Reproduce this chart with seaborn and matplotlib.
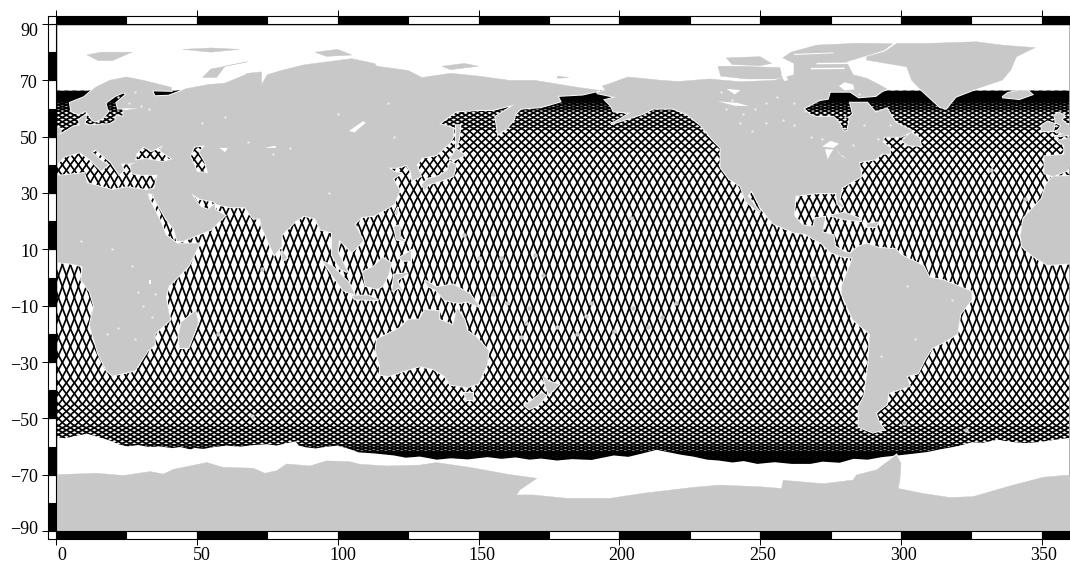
#!/usr/bin/env python3
import numpy as np
import pandas as pd
import seaborn as sns
import matplotlib
matplotlib.use('Agg')
import matplotlib.pyplot as plt
from matplotlib.patches import PathPatch
from matplotlib.path import Path
from matplotlib.transforms import ScaledTranslation

# equator crossing longitudes of the passes
pass_lons = [0.00,2.83,5.67,8.50,11.34,14.17,17.01,19.84,22.68,25.51,28.35,31.18,34.02,36.85,39.68,42.52,
    45.35,48.19,51.02,53.86,56.69,59.53,62.36,65.20,68.03,70.87,73.70,76.54,79.37,82.20,85.04,87.87,
    90.71,93.54,96.38,99.21,102.05,104.88,107.72,110.55,113.39,116.22,119.06,121.89,124.72,127.56,130.39,133.23,
    136.06,138.90,141.73,144.57,147.40,150.24,153.07,155.91,158.74,161.57,164.41,167.24,170.08,172.91,175.75,178.58,
    181.42,184.25,187.09,189.92,192.76,195.59,198.43,201.26,204.09,206.93,209.76,212.60,215.43,218.27,221.10,223.94,
    226.77,229.61,232.44,235.28,238.11,240.94,243.78,246.61,249.45,252.28,255.12,257.95,260.79,263.62,266.46,269.29,
    272.13,274.96,277.80,280.63,283.46,286.30,289.13,291.97,294.80,297.64,300.47,303.31,306.14,308.98,311.81,314.65,
    317.48,320.31,323.15,325.98,328.82,331.65,334.49,337.32,340.16,342.99,345.83,348.66,351.50,354.33,357.17]
asc_shift = 0.6
desc_shift = 1.1

# shape of one pass, lat and lon distance from the equator crossing
pass_lat = [0, 9.13, 18.21, 27.19, 35.97, 44.43, 52.31, 59.18, 61.98, 64.15, 65.55, 66.04]
pass_off = [0, 3.32, 6.85, 10.86, 15.70, 21.92, 30.44, 42.67, 50.73, 60.29, 71.21, 82.97]

# coastlines, lon/lat
afro_eurasia = [(0,50.5),(2,51),(4.5,52.5),(6,53.5),(8.5,54),(8.2,56),(10.5,57.7),(10.5,56),(10,54.5),(12,54),(15,54.2),
    (19,54.4),(21,55.5),(21.5,57.5),(24,57),(24,59.3),(30,60),(25,60.2),(22,60),(21.5,62),(25,65),(24,65.8),(21,64.5),
    (17.5,62),(18,60),(18.5,59),(16.5,56.5),(14,55.4),(12.8,56),(11.5,58),(10.5,59.2),(8,58),(5.5,59),(5,62),(10,64),
    (14,67.5),(19,70),(25,71.2),(31,70),(41,67.5),(41,66.3),(34,66.5),(35,64.3),(40,64.5),(44,66),(46,67),(54,68.5),(60,69),(67,71.9),
    (68,72.5),(73,73),(73,68.5),(75,72),(80,73.5),(88,75.5),(105,77.7),(113,76),(114,75),(125,73.5),(130,71),(140,72.5),
    (150,71.5),(161,70),(170,70),(184,67.7),(193,66.4),(187,65),(178,64.5),(179,62.5),(172,60.5),(165,60),(163,58),
    (162.5,56),(160,53),(157,50.8),(156.5,54),(156,57),(163,61.5),(155,59.5),(150,59.5),(142,59),(136,54.5),(141,53),(141,50),
    (140,48),(135,43.5),(130,42.5),(128,40),(129.5,36),(126.5,34.5),(126,37.5),(124.5,40),(121,39),(118,39),(120,37.5),
    (122.5,37),(119.5,35),(122,31),(120,26),(113,22),(108.5,21.5),(106,19),(109,13),(105,9),(103,11),(100.5,13.5),(100,9),
    (103.5,2),(101,3),(98,8),(98,16),(94,17),(92,21),(88,22),(85,20),(80,15),(80,11),(77.5,8),(73,18),(72.5,21),(70,21),
    (67,25),(62,25),(57,26),(56,27),(51,28),(48,30),(50,26.5),(51.5,25),(54,24),(56.3,26),(56.5,24),(60,22),(55,17),(45,13),
    (43,13),(42,17),(39,21),(35,28),(34.5,29.5),(32.5,30),(33,28),(37,20),(39,15),(43,12),(51,12),(47,4),(40,-3),(39,-7),
    (40.5,-15),(35,-20),(35,-24),(32.5,-26),(28,-33),(20,-34.8),(18,-33),(15,-27),(12,-17),(13.5,-10),(12,-5),(9,-1),(9.5,4),
    (5,5),(0,5.5),(0,36),(10,37),(11,33.5),(20,31),(25,32),(32,31),(35,31.5),(36,36.5),(30,36.5),(27,37),(26.5,40),(29,41),
    (26,40.5),(23,40.5),(24,38),(22.5,36.5),(19.5,41),(14,45.5),(12.5,44.5),(16,41.5),(18.5,40),(16,38),(12,42),(8.5,44.5),
    (3,43),(0,40)]
west_africa = [(360,5),(352,4.5),(347,7.5),(343,11),(342.5,15),(343.5,21),(350,28),(351.5,33),(354,35.8),(360,36)]
iberia_france = [(360,39.5),(359,38),(354,36),(351,37),(351,43),(358,43.5),(358,47),(355.5,48.5),(360,49.5)]
north_america = [(192,65.5),(195,66.5),(194,68),(197,69),(203,71.2),(215,70),(221,69.6),(232,70.5),(243,69.5),(255,70),(262,72),
    (262,76),(258,78),(261,80),(270,82.5),(285,83.2),(297,83),(294,80.7),(286.6,78.4),(280.7,76.6),(283,72),(288,70.7),(295,67),
    (293,66),(291,64.5),(285,64),(282,66),(277,66),(274.7,66),(274,63.5),(271,63),(265.3,60),(267.7,57.7),(270,57),(276,57),(278,55),(279.5,51.8),(281,52),(281.9,57),
    (283,58),(282,62),(288,62),(291,58.5),(295,60),(298,55),(304,52),(300,50),(294,50),(293.5,48),(296,46),(296,44),(293,44),
    (291,42),(285,41),(286,36),(279,32),(278,27),(279.5,25),(277.5,26),(277,30),(270,30),(262.5,29),(262,22),(265,18.5),
    (269,18),(269.5,21),(273,21.5),(272,16),(276,15),(276.5,11),(280,9),(282,8.5),(283,9.5),(285,11),(288,12),(292,10.5),
    (298,10),(300,8),(308,4),(310,0),(315,-1),(325,-5),(325,-8),(321,-13),(320,-20),(315,-23),(311,-25),(308.5,-29),(306,-34),
    (302,-35),(303,-38.5),(295.5,-41),(295,-45),(291,-48),(292,-51),(294,-54),(290,-55),(285,-53),(285,-46),(287,-42),
    (288.5,-30),(289,-20),(283,-15),(279,-6),(279,-3),(281,2),(283,7),(279,7.5),(275,9),(272,12),(266,15.5),(262,16),(255,19),
    (253,21),(250,25),(247,31),(245.5,29),(250,23),(245,27),(243,32.5),(239,35),(236,39),(236,46),(233,49),(229,54),(224,58),
    (219,60),(212,60),(208,58),(197,54.5),(200,56),(204,58.5),(198,59),(197,61),(195,63),(199,64)]
greenland = [(316,60),(313.8,60.6),(307.9,66),(306,67.7),(303.8,70),(302,74.8),(287.8,77.2),(287.8,78.4),(294.3,80.2),(298.5,83.1),(309,83.1),(326.8,83.7),
    (336,82.5),(347.6,81.6),(341,78.4),(339,73.7),(336,70.1),(325.6,66.6),(319.4,64.2)]
antarctica = [(0,-90),(0,-70),(14.4,-69.5),(23.9,-70.3),(33.4,-68.9),(38.1,-69.8),(41.7,-68.1),(53.5,-65.7),(59.4,-67.4),(70,-67.7),
    (74.2,-69.5),(78.3,-68.6),(81.9,-66.2),(90.2,-66.9),(96.1,-65.1),(104.4,-65.4),(107.9,-66.3),(117.4,-66.9),(129.2,-66.6),
    (135,-65.7),(146.9,-67.4),(160,-69.8),(170.7,-71.3),(164.7,-75.4),(163.5,-77.2),(169.4,-77.2),(181.3,-78.4),(196.7,-78.4),
    (208.6,-76.6),(226.3,-74.5),(235.8,-73.7),(249.9,-74.3),(257.6,-74.9),(258.2,-72),(272.4,-73.2),(283,-71.9),(284.2,-70.1),
    (291.3,-68.3),(298.4,-63),(300,-66),(299.6,-71.9),(299,-74.9),(308,-76.7),(317.3,-78.1),(325.6,-77.8),(338.7,-74),
    (350.6,-70.9),(360,-70.1),(360,-90)]
islands = [
    [(0,50.7),(1.5,51.2),(1.7,52.7),(0,53.5)],
    [(360,53.5),(357,56),(358,57.5),(356,58.5),(354.5,57.5),(355,55),(357,54),(356,52.5),(355,51.7),(358,51),(354.5,50),(360,50.7)],
    [(350,52),(350,54),(352,55.3),(354.5,54.5),(354,52)],
    [(336,64),(338,65.5),(342,66.4),(345,66.3),(346.5,65),(342,63.4)],
    [(235,75),(243,75),(257,74.5),(258,71),(255,70.5),(245,70.5),(236,71.5)],
    [(238,78),(250,78.4),(254,76),(250,75.2),(240,75.6)],
    [(302.5,47),(307,46.8),(306.5,49.5),(303.5,51.5),(300.5,48.5)],
    [(275,22),(280,23),(285,21),(286,20),(281,20.5),(277,21.5)],
    [(288,19),(292,19.5),(291,18),(288,18)],
    [(130,33),(132,35),(136,36),(139,38),(140,41),(142,40),(141,36),(137,34.5),(132,33),(131,31)],
    [(140,42),(142,45.5),(145,43.5),(142,42)],
    [(142,46),(142,54),(143.5,54),(143,49)],
    [(120.5,23),(121.5,25),(121,22)],
    [(120,18),(122,18.5),(122,14),(124,13),(121,13.5)],
    [(122,7),(126,9.5),(126,6),(123,6)],
    [(109,2),(113,4),(116,7),(119,5),(118,1),(116,-3),(114,-4),(110,-3)],
    [(95,5.5),(98,4),(104,-2),(106,-6),(102,-4.5),(98,1)],
    [(105.5,-6.5),(111,-6.5),(114.5,-8),(106,-7.7)],
    [(119.5,-5),(120,1),(125,1.5),(121,-1),(123,-5),(121.5,-3.5)],
    [(131,-1),(135,-3.5),(141,-2.5),(147,-6),(150.5,-10.5),(146,-8.5),(143,-9),(138,-8),(135,-4.5),(132,-3)],
    [(80,9.5),(82,7),(80.5,6)],
    [(114,-22),(113.5,-26),(115,-31),(115,-34.5),(118,-35),(124,-33),(129,-31.5),(134,-32.5),(138,-35),(140,-38),(146,-39),
     (150,-37.5),(153,-31),(153.5,-26),(149,-21),(146,-19),(145,-15),(142.5,-11),(141,-17),(136,-15),(136,-12),(131,-11.5),
     (129,-15),(125,-15),(122,-18)],
    [(145,-41),(148,-41),(148,-43.5),(146,-43.5)],
    [(173,-35),(175,-37),(178.5,-38),(175,-41.5),(174,-39)],
    [(172.5,-41),(174,-42),(171,-45.5),(168,-46.7),(166.5,-45.5)],
    [(49.5,-12),(50.5,-16),(47,-25),(44,-25),(43.5,-21),(44.5,-16)],
    [(11,79),(16,80),(27,80),(20,77),(15,77)],
    [(45,81),(55,81.5),(65,81),(55,80)],
    [(52,71),(55,74),(68,76.6),(60,75),(57,71)],
    [(92,80),(100,81),(105,79),(96,78.5)],
    [(137,75),(145,76),(150,75),(140,73.8)],
    [(178,71.5),(182,71),(178,70.7)],
]
# seas inside the land, these show the tracks
black_sea = [(28,41.5),(28.5,44),(31,46.5),(34,45),(38,47),(37,45),(41.5,42),(38,41),(32,42)]
caspian = [(49,46.5),(53,47),(51,44.5),(53,41),(54,37),(50,37.5),(49,40),(47.5,43)]
inland_seas = [black_sea, caspian]

# white lakes and the arctic channels
lakes = [
    [(272,46.5),(275,48.5),(278,47.5),(276,46)],
    [(273,45.5),(274,42),(275,44),(276,45.5)],
    [(277,45.5),(279,43),(281,42),(278,44)],
    [(235,62.5),(242,62),(246,60.8),(241,61)],
    [(238,67),(243,66.5),(241,65)],
    [(263,52),(262,54),(264,50)],
    [(33,-0.8),(33.8,-0.8),(33.8,-2.2),(33,-2.2)],
    [(104,52),(109,55.5),(110,55),(106,51.5)],
    [(74,46),(78,46.8),(78,46)],
    [(58,46),(61,46),(60,44.5)],
    [(278,68),(280,69.3),(283,68.5),(283.5,66.8),(280,66.4)],
    [(270,76.2),(283,76.3),(283,75.8),(270,75.7)],
    [(258,75),(260,74.6),(259,72),(260,70),(258.5,69.8),(257.5,72)],
    [(268,74.4),(280,74.5),(280,74),(268,73.9)],
    [(262,79.4),(276,79.9),(276,79.6),(262,79)],
]

# where the tracks end in the south
ice_lon = [0,3,7,10.9,15,19,22,25,29,33,37,41,44,47.6,49,52,56,60.6,65,70,74.8,78,82,84.9,86,88.4,92,96,99.6,103,107.3,113,119.8,124,129,135,
    140,146,153,158,163,168,172,177.7,183,190,197.9,203,208,213,218,222,226,231,235.1,240,244,248.8,255,261,267.7,272,278,283,288,293,298.6,
    304,309,315,320,325,329,334,339,344,348.3,354,360]
ice_lat = [-56.5,-56.9,-56,-55.3,-56.5,-57.7,-59,-59.8,-59.3,-60,-59.8,-60.4,-60,-60.9,-60.3,-60.7,-60,-59.5,-59.9,-59.3,-59,-59.5,-58.6,-58,-59.5,-60.1,-60.5,-59.9,-59.5,-60.4,-61.9,-62.3,-63,-63.8,-63.4,-64.5,
    -64,-64.4,-63.6,-64.2,-63.7,-64.5,-64.1,-64.8,-64.3,-64.6,-63,-63.5,-62.3,-61,-62,-62.8,-63.4,-64.5,-64.8,-65.5,-65,-66,-65.4,-66,-66,-65.2,-65.6,-64.2,-64.5,-63.6,-63,
    -62.4,-61.8,-60.6,-59.7,-58.3,-58.5,-57.4,-58.2,-58.6,-58.3,-57.5,-56.7]

# small islands
spot_lon = [178,167,165,160,204,188,210,185,220,69.5,301,323,344,332,73,57.5,150,158,170,173,269,155,198,190,205,215,168,145]
spot_lat = [-17.5,-16,-21,-9,21,-13.5,-17.5,-20,-9,-49,-51.7,-54,28,38,3,-20.2,7,7,8,1,0,-6,-19,-9,-11,-14,-11,15]

# white specks on land
speck_lon = [236,240,244,248,252,256,258,262,266,262,252,247,243,238,268,272,283,287,292,280,296,31,35,29,34,22,28,9,77,83,120,68,97,
    26,22,30,28,33,52,60,100,118,20,27,18,318,305,293,285,302]
speck_lat = [66,63,58,60,62,64,56,62,59,54,55,52,55,60,50,49,47,54,49,57,54,-10,-6,-5,-14,-18,-22,13,44,46,50,48,30,
    62,64,61,66,60,55,57,58,62,10,4,-20,-8,-22,-28,65,-3]

lon_ticks = [0,50,100,150,200,250,300,350]
lat_ticks = [-90,-70,-50,-30,-10,10,30,50,70,90]
grey = '#c8c8c8'


def oriented(poly, ccw=True):
    v = np.array(poly + [poly[0]], dtype=float)
    area = np.sum(v[:-1, 0]*v[1:, 1] - v[1:, 0]*v[:-1, 1])
    if (area > 0) != ccw:
        v = v[::-1]
    return Path(v, closed=True)


def track_table():
    lat = np.array(pass_lat[:0:-1] + pass_lat)
    sign = np.r_[-np.ones(len(pass_lat)-1), np.ones(len(pass_lat))]
    off = np.array(pass_off[:0:-1] + pass_off)*sign
    lat = lat*sign
    frames = []
    n = 0
    for wrap in [-360, 0, 360]:
        for c in pass_lons:
            frames.append(pd.DataFrame({'lon': c+asc_shift+wrap+off, 'lat': lat, 'track': n}))
            n += 1
            frames.append(pd.DataFrame({'lon': c+desc_shift+wrap-off, 'lat': lat, 'track': n}))
            n += 1
    return pd.concat(frames, ignore_index=True)


sns.set_theme(style='white')
plt.rcParams['font.family'] = ['Liberation Serif', 'DejaVu Serif']
plt.rcParams['axes.unicode_minus'] = True

fig = plt.figure(figsize=(10.7, 5.64), dpi=100)
ax = fig.add_axes([56/1070, 33/564, 1014/1070, 507/564])

tracks = track_table()
sns.lineplot(data=tracks, x='lon', y='lat', units='track', estimator=None, color='black', lw=1.25,
             legend=False, sort=False, ax=ax, zorder=1)

# white ocean south of the tracks
ax.fill_between(ice_lon, ice_lat, -90, color='white', lw=0, zorder=2)

outer = [afro_eurasia, west_africa, iberia_france, north_america, greenland, antarctica] + islands
land = Path.make_compound_path(*[oriented(p) for p in outer], *[oriented(p, ccw=False) for p in inland_seas])
ax.add_patch(PathPatch(land, fc='white', ec='white', lw=1.6, zorder=2.5))
ax.add_patch(PathPatch(land, fc=grey, ec=grey, lw=0.3, zorder=3))
for lake in lakes:
    ax.fill(*zip(*lake), color='white', lw=0, zorder=4)
sns.scatterplot(x=spot_lon, y=spot_lat, color=grey, s=10, linewidth=0, ax=ax, zorder=3, legend=False)
sns.scatterplot(x=speck_lon, y=speck_lat, color='#ececec', s=3, linewidth=0, ax=ax, zorder=4, legend=False)

ax.set_xlim(0, 360)
ax.set_ylim(-90, 90)
ax.set_xlabel('')
ax.set_ylabel('')
for s in ['left', 'top', 'bottom']:
    ax.spines[s].set_color('black')
    ax.spines[s].set_linewidth(1)
ax.spines['right'].set_color('#aaaaaa')

# checkered border
bar = 3.0
top_cells = [(x, 25) for x in range(0, 360, 25)]
side_cells = [(y, 10) for y in range(-90, 90, 10)]
for i, cell in enumerate(top_cells):
    col = 'black' if i % 2 == 0 else 'white'
    for y0 in [90, -90-bar]:
        ax.broken_barh([cell], (y0, bar), facecolors=col, edgecolors='black', lw=0.8, clip_on=False, zorder=6)
for i, cell in enumerate(side_cells):
    col = 'black' if i % 2 == 0 else 'white'
    ax.broken_barh([(-bar, bar)], cell, facecolors=col, edgecolors='black', lw=0.8, clip_on=False, zorder=6)
for y0 in [90, -90-bar]:
    ax.broken_barh([(-bar, bar)], (y0, bar), facecolors='white', edgecolors='black', lw=0.8, clip_on=False, zorder=6)

ax.set_xticks(lon_ticks)
ax.set_yticks(lat_ticks)
ax.tick_params(axis='both', length=10, width=0.7, color='black', labelsize=13, labelcolor='black', top=True, bottom=True,
               left=True, right=False, pad=1.5)
ax.tick_params(axis='y', pad=3)

# labels are nudged in the reference
x_nudge = [6, 5, 5, 3, 2.5, 2.5, 2.5, 2]
y_nudge = {-90: 4, 90: -6}
for lab, dx in zip(ax.get_xticklabels(), x_nudge):
    lab.set_transform(lab.get_transform() + ScaledTranslation(dx/100, 0, fig.dpi_scale_trans))
for lab, val in zip(ax.get_yticklabels(), lat_ticks):
    lab.set_transform(lab.get_transform() + ScaledTranslation(0, y_nudge.get(val, -1)/100, fig.dpi_scale_trans))

fig.savefig('out.png', dpi=100)
